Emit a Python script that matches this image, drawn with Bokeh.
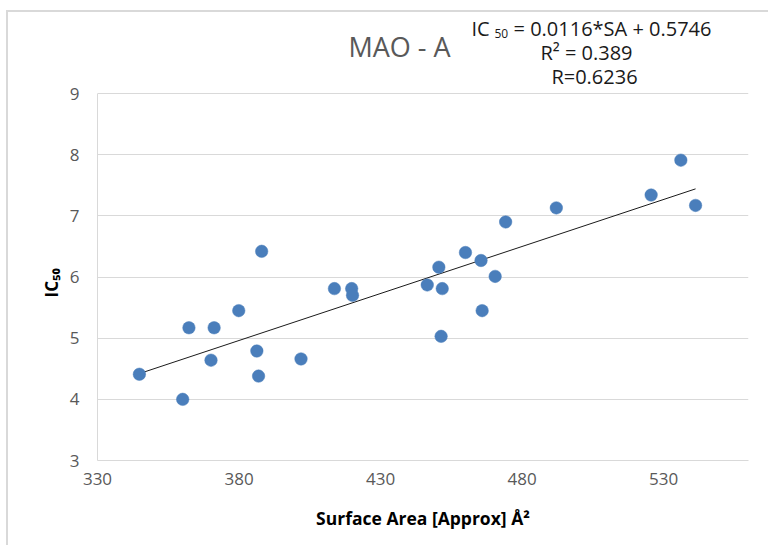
import numpy as np
from bokeh.plotting import figure
from bokeh.models import Label, FixedTicker, Range1d, Title
from bokeh.embed import file_html
from bokeh.resources import INLINE

# ---- data ----
surface_area = [344.8, 360.1, 362.3, 370.1, 371.2, 379.9, 386.3, 386.9, 388.0,
                401.9, 413.7, 419.8, 420.1, 446.5, 450.6, 451.4, 451.8, 460.0,
                465.5, 465.9, 470.5, 474.2, 492.1, 525.6, 536.1, 541.3]
ic50 = [4.41, 4.00, 5.17, 4.64, 5.17, 5.45, 4.79, 4.38, 6.42,
        4.66, 5.81, 5.81, 5.70, 5.87, 6.16, 5.03, 5.81, 6.40,
        6.27, 5.45, 6.01, 6.90, 7.13, 7.34, 7.91, 7.17]
x_ticks = [330, 380, 430, 480, 530]
y_ticks = [3, 4, 5, 6, 7, 8, 9]
x_max = 560
title_text = "MAO - A"
eq_lines = ["= 0.0116*SA + 0.5746", "R\u00b2 = 0.389", "R=0.6236"]
x_label = "Surface Area [Approx] \u00c5\u00b2"
y_label = "IC\u2085\u2080"

FONT = "Open Sans"

# plot area occupies 367 px for the y ticks span; the 81 px above it hold the
# title block, so the y range is extended upward (axis line bounded to ticks)
PLOT_H, TOP_H = 367, 81
y_top = y_ticks[-1] + TOP_H * (y_ticks[-1] - y_ticks[0]) / PLOT_H

p = figure(width=762, height=535, output_backend="svg", toolbar_location=None,
           x_range=Range1d(x_ticks[0], x_max), y_range=Range1d(y_ticks[0], y_top),
           min_border_left=89, min_border_right=22, min_border_top=0,
           min_border_bottom=87)
p.styles = {"border-left": "2px solid #d9d9d9", "border-top": "2px solid #d9d9d9",
            "margin-top": "10px", "margin-left": "6px"}
p.outline_line_color = None
p.background_fill_color = "white"
p.border_fill_color = "white"

# axes
for ax in (p.xaxis, p.yaxis):
    ax.axis_line_color = "#d9d9d9"
    ax.axis_line_width = 1
    ax.major_tick_line_color = None
    ax.minor_tick_line_color = None
    ax.major_tick_out = 0
    ax.major_tick_in = 0
    ax.major_label_text_font = FONT
    ax.major_label_text_font_size = "17px"
    ax.major_label_text_color = "#595959"
    ax.axis_label_text_font = FONT
    ax.axis_label_text_font_style = "bold"
    ax.axis_label_text_color = "#000000"
p.xaxis.ticker = FixedTicker(ticks=x_ticks)
p.yaxis.ticker = FixedTicker(ticks=y_ticks)
p.yaxis.bounds = (y_ticks[0], y_ticks[-1])
p.xaxis.major_label_standoff = 12
p.yaxis.major_label_standoff = 18
p.xaxis.axis_label = x_label
p.xaxis.axis_label_text_font_size = "17.5px"
p.xaxis.axis_label_standoff = 18

# y-axis title, placed beside the axis and centred on the 3..9 span
p.add_layout(Title(text=y_label, align="left", offset=163, standoff=8,
                   text_font=FONT, text_font_size="17px", text_font_style="bold",
                   text_color="#000000"), "left")

p.xgrid.grid_line_color = None
p.ygrid.grid_line_color = "#d9d9d9"
p.ygrid.grid_line_width = 1
p.ygrid.ticker = FixedTicker(ticks=y_ticks)

# trendline: least squares fit of the data
slope, intercept = np.polyfit(surface_area, ic50, 1)
xs = np.array([min(surface_area), max(surface_area)])
p.line(xs, slope * xs + intercept, line_color="#1a1a1a", line_width=1)

# points
p.scatter(surface_area, ic50, size=12.5, fill_color="#4a7ebb", line_color="#4a7ebb",
          line_width=0.5)

def lab(x, y, text, size, color="#1a1a1a", align="center", bold=False):
    p.add_layout(Label(x=x, y=y, x_units="canvas", y_units="canvas", text=text,
                       text_font=FONT, text_font_size=size, text_color=color,
                       text_align=align, text_baseline="middle",
                       text_font_style="bold" if bold else "normal"))

# title and equation block (canvas coords, inside the extended frame)
lab(389, 32, title_text, "27px", color="#595959")
lab(461, 14, "IC", "20px", align="left")
lab(484, 19, "50", "12px", align="left")
lab(503, 14, eq_lines[0], "20px", align="left")
lab(576, 38, eq_lines[1], "20px")
lab(584, 62, eq_lines[2], "20px")

open("out.html", "w").write(file_html(p, INLINE))
